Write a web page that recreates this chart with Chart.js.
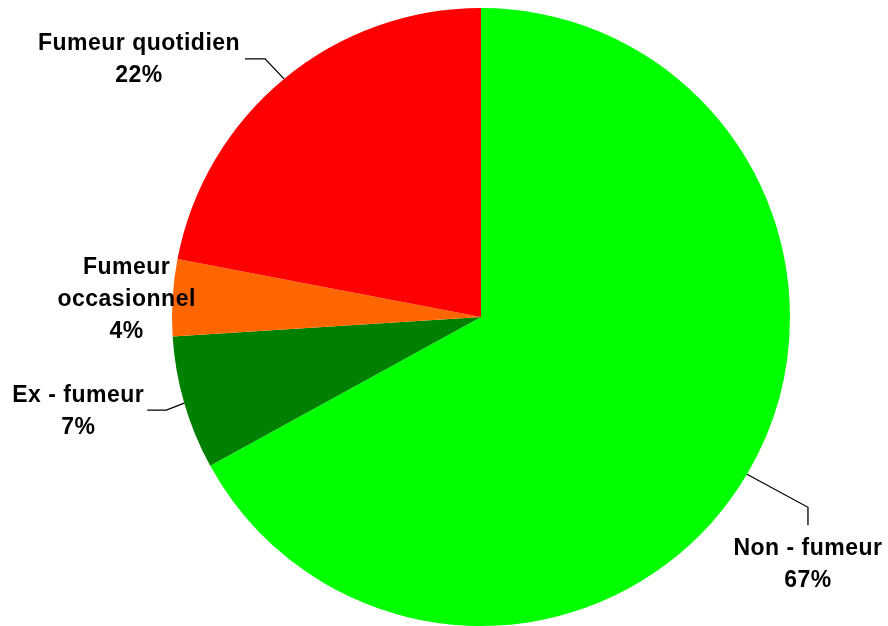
<!DOCTYPE html>
<html>
<head>
<meta charset="utf-8">
<script src="https://cdn.jsdelivr.net/npm/chart.js@4"></script>
<style>
  html, body { margin: 0; padding: 0; background: #fff; }
  #wrap { width: 888px; height: 626px; }
</style>
</head>
<body>
<div id="wrap"><canvas id="pie"></canvas></div>
<script>
// data
const categories = ["Non - fumeur", "Ex - fumeur", "Fumeur occasionnel", "Fumeur quotidien"];
const shares = [67, 7, 4, 22];
const sliceColors = ["#00ff00", "#008000", "#ff6600", "#ff0000"];

// label layout relative to the slice edge point (leader line: elbow, end; text centre; lines)
const labelLayout = [
  { lines: ["Non - fumeur", "67%"], leader: [[61, 33], [61, 51]], text: [61, 74] },
  { lines: ["Ex - fumeur", "7%"], leader: [[-18, 7], [-37, 7]], text: [-106, -8] },
  { lines: ["Fumeur", "occasionnel", "4%"], leader: null, text: [-46, -30] },
  { lines: ["Fumeur quotidien", "22%"], leader: [[-19, -20], [-39, -20]], text: [-145, -35] }
];

const outsideLabels = {
  id: "outsideLabels",
  afterDraw(chart) {
    const ctx = chart.ctx;
    const arcs = chart.getDatasetMeta(0).data;
    ctx.save();
    ctx.font = "bold 23px 'Liberation Sans', Arial, sans-serif";
    ctx.letterSpacing = "0.5px";
    ctx.fillStyle = "#000";
    ctx.strokeStyle = "#000";
    ctx.lineWidth = 1.3;
    ctx.textAlign = "center";
    ctx.textBaseline = "middle";
    arcs.forEach((arc, i) => {
      const mid = (arc.startAngle + arc.endAngle) / 2;
      const ex = arc.x + Math.cos(mid) * arc.outerRadius;
      const ey = arc.y + Math.sin(mid) * arc.outerRadius;
      const lay = labelLayout[i];
      if (lay.leader) {
        ctx.beginPath();
        ctx.moveTo(ex, ey);
        lay.leader.forEach(p => ctx.lineTo(ex + p[0], ey + p[1]));
        ctx.stroke();
      }
      lay.lines.forEach((t, k) => {
        ctx.fillText(t, ex + lay.text[0], ey + lay.text[1] + k * 32);
      });
    });
    ctx.restore();
  }
};

new Chart(document.getElementById("pie").getContext("2d"), {
  type: "pie",
  data: {
    labels: categories,
    datasets: [{
      data: shares,
      backgroundColor: sliceColors,
      borderWidth: 0
    }]
  },
  options: {
    responsive: true,
    maintainAspectRatio: false,
    animation: false,
    layout: { padding: { left: 172, right: 98, top: 8, bottom: 0 } },
    plugins: {
      legend: { display: false },
      tooltip: { enabled: false }
    }
  },
  plugins: [outsideLabels]
});
</script>
</body>
</html>
